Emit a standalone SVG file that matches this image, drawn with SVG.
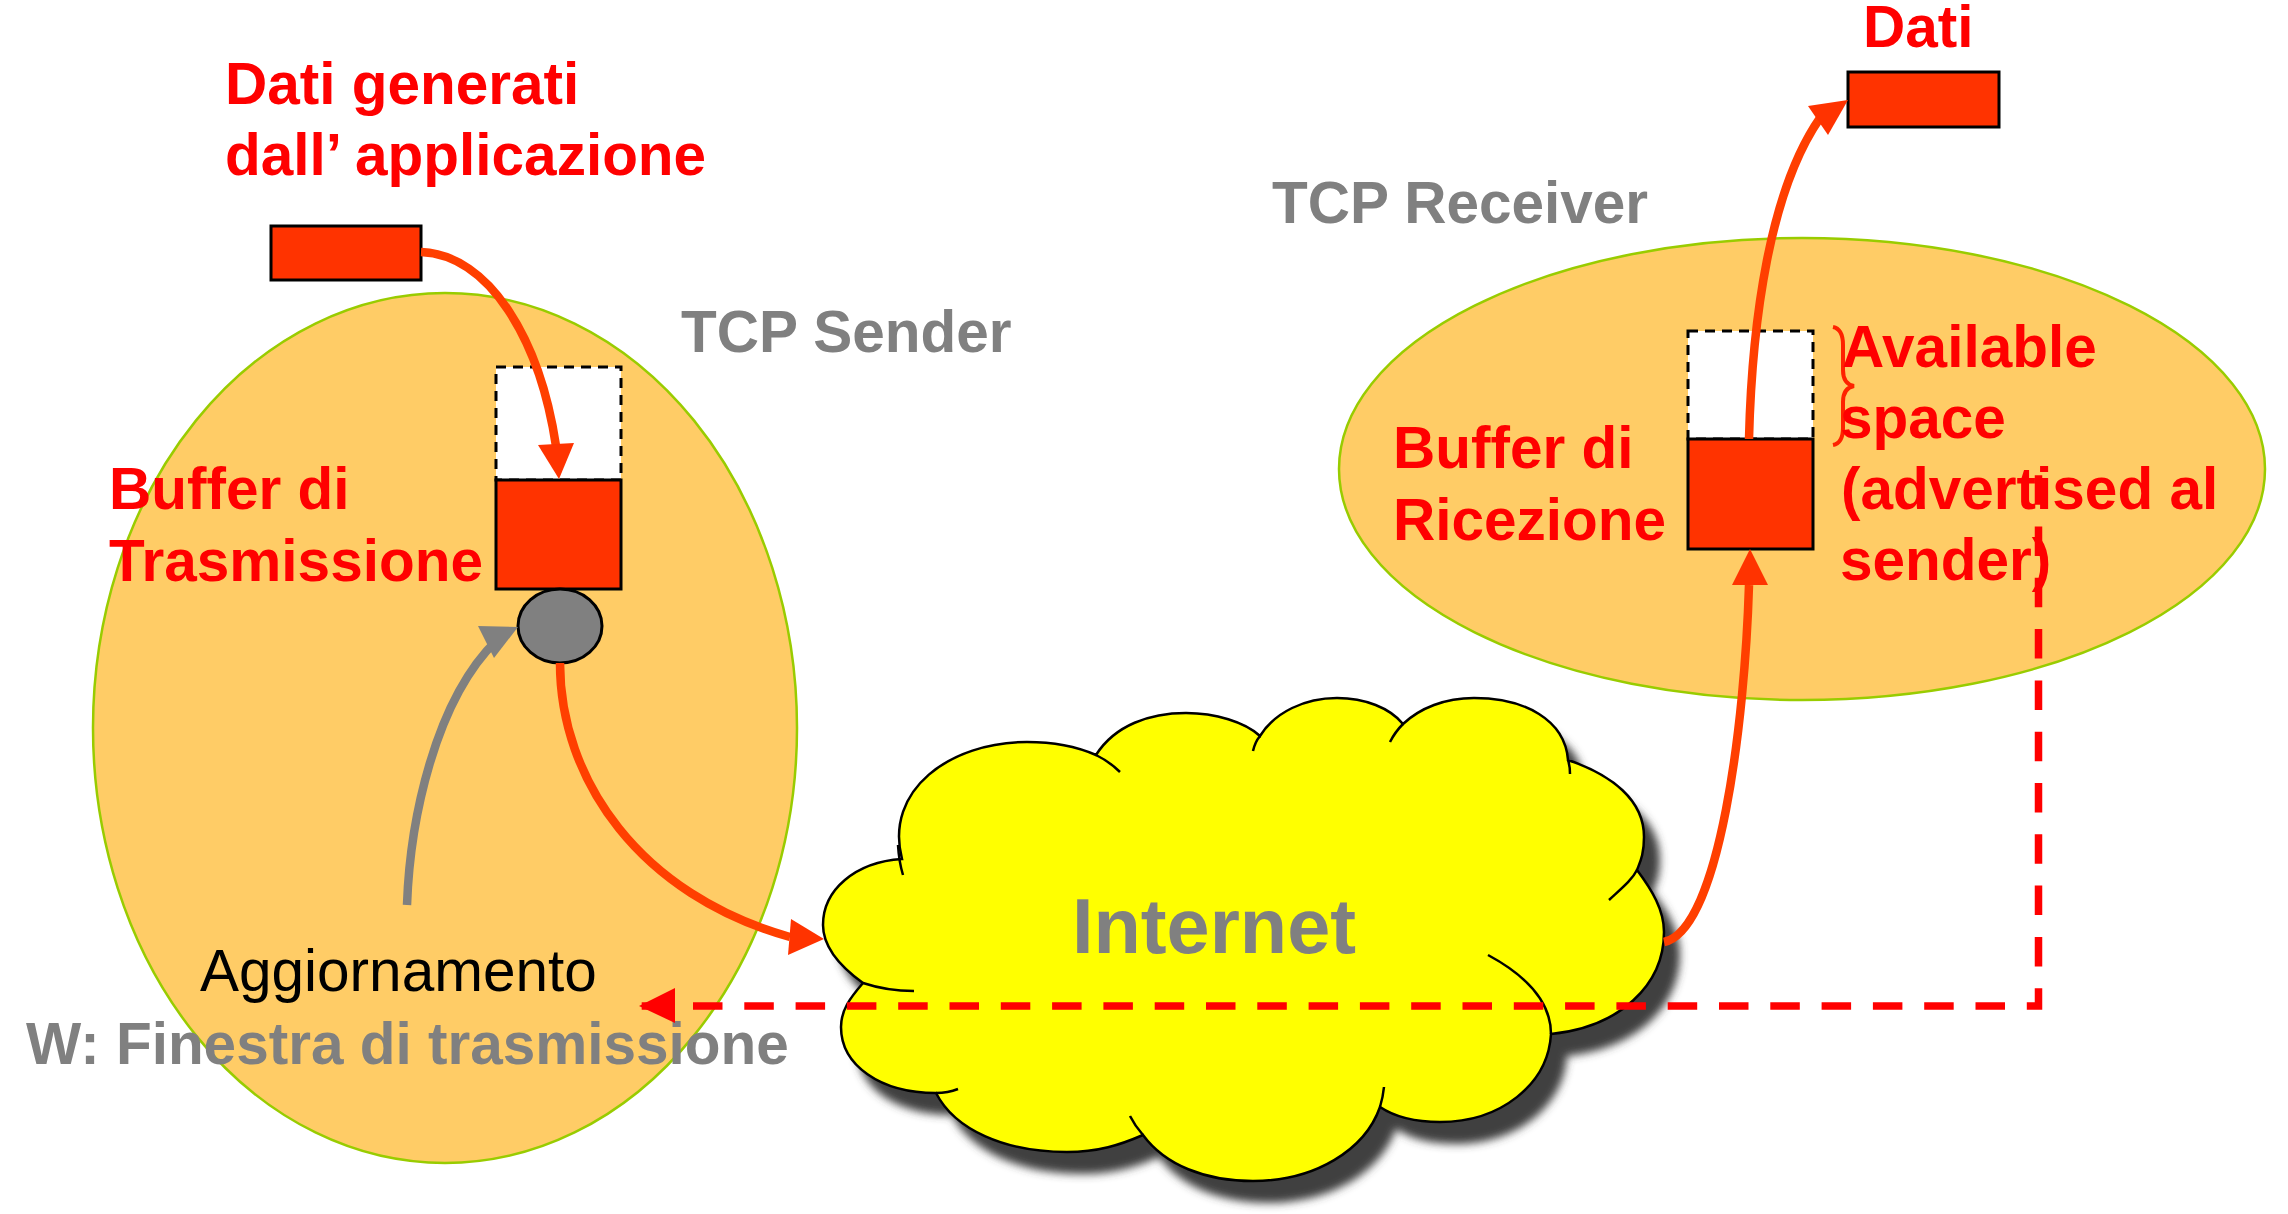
<svg xmlns="http://www.w3.org/2000/svg" width="2288" height="1214" viewBox="0 0 2288 1214">
<style>
text{font-family:"Liberation Sans",Arial,sans-serif;font-size:58.5px}
.r{font-weight:bold;fill:#ff0000}
.g{font-weight:bold;fill:#808080}
.k{fill:#000}
.host{fill:#ffcc66;stroke:#99cc00;stroke-width:2.5}
.box{fill:#ff3300;stroke:#000;stroke-width:3}
.free{fill:#fff;stroke:#000;stroke-width:3;stroke-dasharray:10 7}
.c{fill:none;stroke:#ff3f00;stroke-width:8.5}
.h{fill:#ff3300}
.cl{stroke:#000;stroke-width:2.5;fill:none}
</style>
<defs>
<path id="cloudp" d="M902 859C884 790 950 742 1027 742C1058 742 1080 748 1096 755C1115 725 1150 713 1186 713C1215 713 1245 722 1260 736C1275 712 1305 698 1337 698C1365 698 1390 708 1403 724C1420 708 1445 698 1474 698C1525 698 1565 720 1568 760C1612 775 1644 800 1644 837C1644 855 1640 862 1637 870C1652 890 1664 910 1664 932C1664 985 1620 1027 1551 1034C1548 1085 1500 1122 1440 1122C1415 1122 1395 1117 1380 1107C1365 1150 1315 1181 1253 1181C1205 1181 1165 1165 1143 1135C1120 1145 1098 1152 1067 1152C1005 1152 955 1130 936 1093C880 1093 841 1065 841 1027C841 1010 850 998 863 983C838 965 823 945 823 925C823 890 855 862 902 859Z"/>
<filter id="blur" x="-10%" y="-10%" width="120%" height="120%"><feGaussianBlur stdDeviation="4.5"/></filter>
</defs>
<g id="sender"><ellipse class="host" cx="445" cy="728" rx="352" ry="435"/></g>
<g id="receiver"><ellipse class="host" cx="1802" cy="469" rx="463" ry="231"/></g>
<g id="cloud">
<use href="#cloudp" fill="#404040" transform="translate(16 22)" filter="url(#blur)"/>
<use href="#cloudp" fill="#ffff00" stroke="#000" stroke-width="2.5"/>
<path class="cl" d="M898 845Q899 862 903 875M1096 755Q1110 762 1120 772M1260 736Q1255 742 1253 751M1403 724Q1395 732 1390 742M1568 760Q1570 766 1570 774M1637 870C1632 880 1622 888 1609 900M1551 1034C1551 1000 1525 975 1488 955M1380 1107Q1383 1097 1384 1087M1143 1135Q1135 1126 1130 1116M936 1093Q948 1093 958 1089M863 983C878 988 895 991 914 991"/>
<text class="g" x="1072" y="953" style="font-size:77px" textLength="284" lengthAdjust="spacingAndGlyphs">Internet</text>
</g>
<g id="app-data"><rect class="box" x="271" y="226" width="150" height="54"/></g>
<g id="send-buffer"><rect class="free" x="496" y="367" width="125" height="113"/><rect class="box" x="496" y="480" width="125" height="109"/></g>
<g id="window"><ellipse cx="560" cy="626" rx="42" ry="37" fill="#808080" stroke="#000" stroke-width="3"/></g>
<g id="recv-buffer"><rect class="free" x="1688" y="331" width="125" height="108"/><rect class="box" x="1688" y="439" width="125" height="110"/></g>
<g id="out-data"><rect class="box" x="1848" y="72" width="151" height="55"/></g>
<g id="connectors">
<path class="c" d="M421 252C490 255 540 340 556 446"/><path class="h" d="M538 445L574 443L559 479Z"/>
<path d="M407 905C410 820 435 700 497 640" fill="none" stroke="#808080" stroke-width="8.5"/><path fill="#808080" d="M478 626L518 627L494 658Z"/>
<path class="c" d="M560 663C560 780 640 895 790 937"/><path class="h" d="M791 919L824 939L788 955Z"/>
<path class="c" d="M1664 942C1720 930 1745 720 1749 585"/><path class="h" d="M1732 585H1768L1750 549Z"/>
<path class="c" d="M1749 439C1752 320 1770 190 1820 118"/><path class="h" d="M1808 106L1848 100L1828 135Z"/>
<path d="M1833 327Q1843 329 1843 345V370Q1843 384 1854 386Q1843 388 1843 402V428Q1843 443 1833 445" fill="none" stroke="#ff2200" stroke-width="4"/>
</g>
<g id="labels">
<text class="r" x="225" y="104">Dati generati</text>
<text class="r" x="225" y="175">dall’ applicazione</text>
<text class="g" x="681" y="352">TCP Sender</text>
<text class="r" x="109" y="509">Buffer di</text>
<text class="r" x="109" y="581">Trasmissione</text>
<text class="k" x="200" y="991">Aggiornamento</text>
<text class="g" x="26" y="1064">W: Finestra di trasmissione</text>
<text class="g" x="1272" y="223">TCP Receiver</text>
<text class="r" x="1863" y="47">Dati</text>
<text class="r" x="1393" y="468">Buffer di</text>
<text class="r" x="1393" y="540">Ricezione</text>
<text class="r" x="1842" y="367">Available</text>
<text class="r" x="1840" y="438">space</text>
<text class="r" x="1841" y="509">(advertised al</text>
<text class="r" x="1840" y="580">sender)</text>
</g>
<g id="feedback">
<path d="M641.7 1006H2038.5V475" fill="none" stroke="#ff0000" stroke-width="7.5" stroke-dasharray="29.5 21.8"/>
<path fill="#ff0000" d="M639 1006L675 988V1023Z"/>
</g>
</svg>
